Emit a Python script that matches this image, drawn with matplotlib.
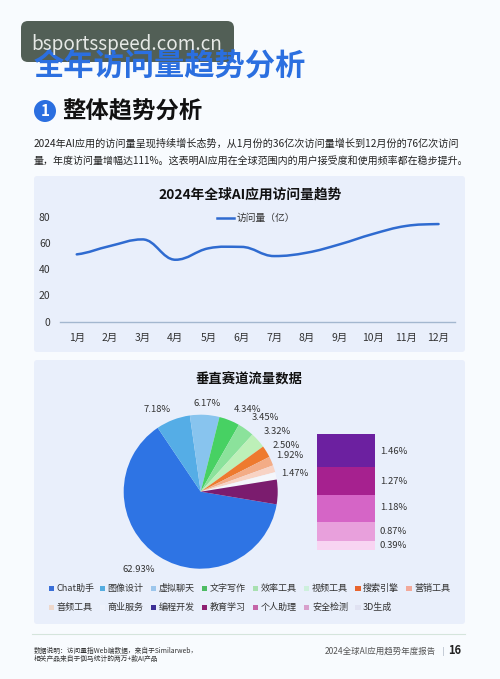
import matplotlib
matplotlib.use('Agg')
import matplotlib.pyplot as plt
from matplotlib.lines import Line2D
from matplotlib.path import Path
from matplotlib.patches import FancyBboxPatch, PathPatch, Circle, Rectangle

plt.rcParams['font.family'] = ['Noto Sans CJK SC', 'DejaVu Sans']

W, H = 500, 679

months = ['1月', '2月', '3月', '4月', '5月', '6月', '7月', '8月', '9月', '10月', '11月', '12月']
visits = [51.3, 57.6, 62.7, 47.2, 55.9, 57.0, 50.0, 52.6, 59.0, 66.8, 72.9, 74.4]

pie_values = [62.93, 7.18, 6.17, 4.34, 3.45, 3.32, 2.50, 1.92, 1.47, 1.55, 5.17]
pie_colors = ['#2e74e4', '#55ade6', '#88c4ee', '#47d163', '#8be29b', '#bdf0b8',
              '#ee7a2e', '#f3ac86', '#f8d3c4', '#f4f6fb', '#7b1c6e']
pie_labels = ['62.93%', '7.18%', '6.17%', '4.34%', '3.45%', '3.32%', '2.50%', '1.92%', '1.47%']
pie_label_xy = [(139, 569), (157, 409), (207, 403), (247, 409), (265, 418),
                (277, 431), (286, 445), (290, 456), (295, 473)]

bar_values = [1.46, 1.27, 1.18, 0.87, 0.39]
bar_colors = ['#6c20a0', '#a6218f', '#d565c6', '#e8a0dc', '#f8d4f2']
bar_labels = ['1.46%', '1.27%', '1.18%', '0.87%', '0.39%']
bar_label_y = [451, 482, 508, 532, 546]

legend_names = ['Chat助手', '图像设计', '虚拟聊天', '文字写作', '效率工具', '视频工具', '搜索引擎', '营销工具',
                '音频工具', '商业服务', '编程开发', '教育学习', '个人助理', '安全检测', '3D生成']
legend_colors = ['#3a6fd8', '#55ade0', '#9cc6ec', '#4dbb63', '#a8e0b0', '#cdf0dc', '#e8652e', '#f2a99a',
                 '#eed8cc', '#eef2fb', '#3d2f96', '#8e1f72', '#c465a8', '#d8a0cc', '#e0e2f2']

fig = plt.figure(figsize=(W / 100, H / 100), dpi=100, facecolor='#f8fbfe')


def add_px_axes(left, top, right, bottom):
    ax = fig.add_axes([left / W, 1 - bottom / H, (right - left) / W, (bottom - top) / H])
    ax.patch.set_alpha(0)
    return ax


page = fig.add_axes([0, 0, 1, 1], zorder=0)
page.set_xlim(0, W)
page.set_ylim(H, 0)
page.axis('off')


def panel(top, bottom):
    page.add_patch(FancyBboxPatch((34, top), 431, bottom - top, boxstyle='round,pad=0,rounding_size=3',
                                  fc='#e9effb', ec='none'))


panel(176, 352)
panel(360, 624)

# headings
page.text(34, 66, '全年访问量趋势分析', fontsize=21.8, fontweight='bold', color='#2b6fe0', va='center')
page.add_patch(Circle((45, 111), 11, fc='#2b6fe0', ec='none'))
page.text(45, 110.5, '1', fontsize=11, fontweight='bold', color='white', ha='center', va='center')
page.text(62, 111, '整体趋势分析', fontsize=16.8, fontweight='bold', color='#111111', va='center')
page.text(34, 143, '2024年AI应用的访问量呈现持续增长态势，从1月份的36亿次访问量增长到12月份的76亿次访问',
          fontsize=7.3, color='#222222', va='center')
page.text(34, 161, '量，年度访问量增幅达111%。这表明AI应用在全球范围内的用户接受度和使用频率都在稳步提升。',
          fontsize=7.2, color='#222222', va='center')

page.text(250, 194.5, '2024年全球AI应用访问量趋势', fontsize=9.9, fontweight='bold', color='#111111',
          ha='center', va='center')
page.text(249, 380, '垂直赛道流量数据', fontsize=9.6, fontweight='bold', color='#111111', ha='center', va='center')

# line chart, flat tangents at the local peaks and dips
ax = add_px_axes(60.3, 216.7, 455, 321.7)
xs = [i + 0.5 for i in range(len(visits))]
slopes = []
for i in range(len(visits)):
    left = visits[max(i - 1, 0)]
    right = visits[min(i + 1, len(visits) - 1)]
    if (visits[i] - left) * (right - visits[i]) < 0:
        slopes.append(0)
    else:
        slopes.append((right - left) / 2)
verts = [(xs[0], visits[0])]
codes = [Path.MOVETO]
for i in range(len(xs) - 1):
    verts.append((xs[i] + 0.4, visits[i] + slopes[i] * 0.4))
    verts.append((xs[i + 1] - 0.4, visits[i + 1] - slopes[i + 1] * 0.4))
    verts.append((xs[i + 1], visits[i + 1]))
    codes += [Path.CURVE4] * 3
ax.add_patch(PathPatch(Path(verts, codes), fc='none', ec='#2f6bd0', lw=1.8, capstyle='round'))
ax.set_xlim(0, 12)
ax.set_ylim(0, 80)
ax.set_xticks(xs)
ax.set_xticklabels(months)
ax.set_yticks([0, 20, 40, 60, 80])
ax.tick_params(length=0, labelsize=7.5, labelcolor='#333333')
ax.tick_params(axis='x', pad=8)
ax.tick_params(axis='y', pad=7)
for name in ['top', 'left', 'right']:
    ax.spines[name].set_visible(False)
ax.spines['bottom'].set_color('#a3b7cf')
ax.spines['bottom'].set_linewidth(1.0)
handle = Line2D([], [], color='#2f6bd0', lw=1.8)
ax.legend([handle], ['访问量（亿）'], loc='center', bbox_to_anchor=(0.495, 0.985), frameon=False,
          fontsize=7, labelcolor='#333333', handlelength=1.8, handletextpad=0.2)

# pie
pie_ax = add_px_axes(200.7 - 77, 491.7 - 77, 200.7 + 77, 491.7 + 77)
pie_ax.pie(pie_values, colors=pie_colors, startangle=-9.5, counterclock=False, radius=1)
pie_ax.set_xlim(-1, 1)
pie_ax.set_ylim(-1, 1)
for label, (x, y) in zip(pie_labels, pie_label_xy):
    page.text(x, y, label, fontsize=6.8, color='#333333', ha='center', va='center')

# stacked breakdown bar
bar_ax = add_px_axes(317.3, 434.3, 374.7, 550)
bottom = 0
for value, color in zip(bar_values, bar_colors):
    bar_ax.bar(0, value, width=1, bottom=bottom, color=color)
    bottom += value
bar_ax.set_xlim(-0.5, 0.5)
bar_ax.set_ylim(bottom, 0)
bar_ax.axis('off')
for label, y in zip(bar_labels, bar_label_y):
    page.text(380, y, label, fontsize=6.8, color='#333333', va='center')

# legend, laid out by hand to keep the two rows on the original grid
for i, (name, color) in enumerate(zip(legend_names, legend_colors)):
    col = i % 8
    y = 588.3 if i < 8 else 607.7
    x = 48.5 + col * 51.1
    page.add_patch(Rectangle((x, y - 2.7), 5.4, 5.4, fc=color, ec='none'))
    page.text(x + 8, y, name, fontsize=6.5, color='#333333', va='center')

# footer
page.plot([32, 465], [634.3, 634.3], color='#d5e5dc', lw=0.8)
page.text(34, 651, '数据说明：访问量指Web端数据，来自于Similarweb，', fontsize=4.85, color='#333333', va='center')
page.text(34, 659, '相关产品来自于伽马统计的两万+款AI产品', fontsize=4.85, color='#333333', va='center')
page.text(436, 651, '2024全球AI应用趋势年度报告', fontsize=6.1, color='#555555', ha='right', va='center')
page.plot([443, 443], [647, 655], color='#c5ccd6', lw=0.7)
page.text(461, 651, '16', fontsize=8, fontweight='bold', color='#222222', ha='right', va='center')

# site badge over the title
page.add_patch(FancyBboxPatch((21, 21), 213, 41, boxstyle='round,pad=0,rounding_size=7',
                              fc='#4d5a50', ec='none', alpha=0.97))
page.text(31, 44.5, 'bsportsspeed.com.cn', fontsize=13.6, color='#e6e9e6', va='center')

fig.savefig('out.png', dpi=100, facecolor=fig.get_facecolor())
